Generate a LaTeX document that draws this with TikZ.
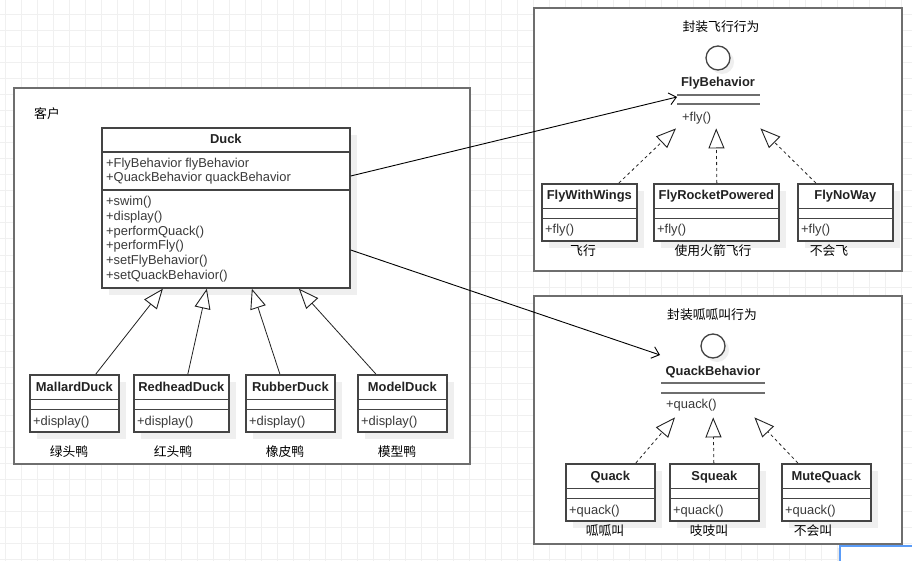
\documentclass[tikz,border=0pt]{standalone}
\usepackage{fontspec}
\setmainfont{Liberation Sans}
\newfontfamily\cjk{Noto Sans CJK SC}
\usetikzlibrary{arrows.meta,shadows,calc}
\definecolor{gridc}{HTML}{F0F0F0}
\definecolor{framec}{HTML}{6E6E6E}
\definecolor{boxc}{HTML}{444444}
\definecolor{txtc}{HTML}{222222}
\definecolor{memc}{HTML}{3A3A3A}
\definecolor{shadc}{HTML}{EFEFEF}
\definecolor{uiblue}{HTML}{5A9CF8}
\tikzset{
  frame/.style={draw=framec, line width=1.8pt, fill=white, inner sep=0pt, anchor=north west},
  classbox/.style={draw=boxc, line width=1.7pt, fill=white, inner sep=0pt, anchor=north west,
    general shadow={fill=shadc, shadow xshift=7pt, shadow yshift=-7pt}},
  sepline/.style={draw=boxc, line width=1.6pt},
  ifline/.style={draw=framec, line width=1.7pt},
  titletext/.style={font=\fontsize{12.9}{15}\selectfont\bfseries, text=txtc, inner sep=0pt, text height=9pt, text depth=0pt},
  membertext/.style={font=\fontsize{12.9}{15}\selectfont, text=memc, inner sep=0pt, text height=9pt, text depth=0pt, anchor=west},
  multitext/.style={font=\fontsize{12.9}{14.85}\selectfont, text=memc, inner sep=0pt, align=left, anchor=north west},
  cjklabel/.style={font=\cjk\fontsize{12.8}{15}\selectfont, text=black, inner sep=0pt, text height=9pt, text depth=0pt},
  ifcircle/.style={circle, draw=boxc, line width=1.3pt, fill=white, minimum size=24pt, inner sep=0pt,
    general shadow={fill=shadc, shadow xshift=4pt, shadow yshift=-4pt}},
  assoc/.style={draw=black, line width=0.9pt, -{Straight Barb[length=7pt, width=12pt, line width=0.9pt]}},
  gen/.style={draw=txtc, line width=0.8pt, -{Triangle[length=20pt, width=16pt, fill=white, line width=0.9pt]}},
  real/.style={gen, dash pattern=on 3pt off 3pt}
}
\newcommand\smallclass[6]{%
  \node[classbox, minimum width={#4-#2}, minimum height=57pt] (#1) at (#2,#3) {};
  \draw[sepline] ([yshift=-25.5pt]#1.north west) -- ([yshift=-25.5pt]#1.north east);
  \draw[sepline] ([yshift=-35.5pt]#1.north west) -- ([yshift=-35.5pt]#1.north east);
  \node[titletext] (#1-t) at ([yshift=-12.5pt]#1.north) {#5};
  \node[membertext] (#1-m) at ([xshift=4pt,yshift=-46.5pt]#1.north west) {#6};
}
\begin{document}
\begin{tikzpicture}[x=1pt,y=-1pt]
\useasboundingbox (0,0) rectangle (912,561);
\fill[white] (0,0) rectangle (912,561);
% background grid
\foreach \gx in {5,21,...,917} \draw[gridc, line width=1pt] (\gx,0) -- (\gx,561);
\foreach \gy in {15,31,...,561} \draw[gridc, line width=1pt] (0,\gy) -- (912,\gy);

% frames
\node[frame, minimum width=456pt, minimum height=376pt] (client) at (13,87) {};
\node[frame, minimum width=368pt, minimum height=263pt] (flyframe) at (533,7) {};
\node[frame, minimum width=368pt, minimum height=248pt] (quackframe) at (533,295) {};

\node[cjklabel] (clientlbl) at (47,114) {客户};
\node[cjklabel] (flylbl) at (721,27) {封装飞行行为};
\node[cjklabel] (quacklbl) at (712,315) {封装呱呱叫行为};

% Duck
\node[classbox, minimum width=248pt, minimum height=160pt] (duck) at (101,127) {};
\draw[sepline] ([yshift=-25pt]duck.north west) -- ([yshift=-25pt]duck.north east);
\draw[sepline] ([yshift=-63pt]duck.north west) -- ([yshift=-63pt]duck.north east);
\node[titletext] (duck-t) at ([yshift=-12.5pt]duck.north) {Duck};
\node[multitext] (duck-a) at ([xshift=5pt,yshift=-30.5pt]duck.north west) {+FlyBehavior flyBehavior\\+QuackBehavior quackBehavior};
\node[multitext] (duck-m) at ([xshift=5pt,yshift=-68.8pt]duck.north west) {+swim()\\+display()\\+performQuack()\\+performFly()\\+setFlyBehavior()\\+setQuackBehavior()};

% Duck subclasses
\smallclass{mal}{29}{374}{118}{MallardDuck}{+display()}
\smallclass{red}{133}{374}{228}{RedheadDuck}{+display()}
\smallclass{rub}{245}{374}{334}{RubberDuck}{+display()}
\smallclass{mod}{357}{374}{446}{ModelDuck}{+display()}
\node[cjklabel] (mal-l) at (69,452) {绿头鸭};
\node[cjklabel] (red-l) at (173,452) {红头鸭};
\node[cjklabel] (rub-l) at (285,452) {橡皮鸭};
\node[cjklabel] (mod-l) at (397,452) {模型鸭};

% FlyBehavior interface
\node[ifcircle] (flyc) at (718,58) {};
\node[titletext] (flyt) at (718,82) {FlyBehavior};
\node[inner sep=0pt, minimum width=83pt, minimum height=33pt, anchor=north west] (flyb) at (677,95) {};
\draw[ifline] (flyb.north west) -- (flyb.north east);
\draw[ifline] ([yshift=-9pt]flyb.north west) -- ([yshift=-9pt]flyb.north east);
\node[membertext] (flyb-m) at ([xshift=5pt,yshift=-22pt]flyb.north west) {+fly()};

\smallclass{fww}{541}{183}{636}{FlyWithWings}{+fly()}
\smallclass{frp}{653}{183}{778}{FlyRocketPowered}{+fly()}
\smallclass{fnw}{797}{183}{892}{FlyNoWay}{+fly()}
\node[cjklabel] (fww-l) at (583,251) {飞行};
\node[cjklabel] (frp-l) at (713,251) {使用火箭飞行};
\node[cjklabel] (fnw-l) at (829,251) {不会飞};

% QuackBehavior interface
\node[ifcircle] (qc) at (713,346) {};
\node[titletext] (qt) at (713,371) {QuackBehavior};
\node[inner sep=0pt, minimum width=104pt, minimum height=34pt, anchor=north west] (qb) at (661,383) {};
\draw[ifline] (qb.north west) -- (qb.north east);
\draw[ifline] ([yshift=-10pt]qb.north west) -- ([yshift=-10pt]qb.north east);
\node[membertext] (qb-m) at ([xshift=5pt,yshift=-21pt]qb.north west) {+quack()};

\smallclass{qk}{565}{463}{654}{Quack}{+quack()}
\smallclass{sq}{669}{463}{758}{Squeak}{+quack()}
\smallclass{mq}{781}{463}{870}{MuteQuack}{+quack()}
\node[cjklabel] (qk-l) at (605,531) {呱呱叫};
\node[cjklabel] (sq-l) at (709,531) {吱吱叫};
\node[cjklabel] (mq-l) at (813,531) {不会叫};

% generalization
\draw[gen] ([xshift=21.5pt]mal.north) -- ([xshift=-63pt]duck.south);
\draw[gen] ([xshift=6.5pt]red.north) -- ([xshift=-19pt]duck.south);
\draw[gen] ([xshift=-10.5pt]rub.north) -- ([xshift=26pt]duck.south);
\draw[gen] ([xshift=-26.5pt]mod.north) -- ([xshift=73pt]duck.south);

% realization
\draw[real] ([xshift=29.5pt]fww.north) -- ([xshift=-1pt]flyb.south west);
\draw[real] ([xshift=0.5pt]frp.north) -- ([xshift=-2.5pt]flyb.south);
\draw[real] ([xshift=-29.5pt]fnw.north) -- (flyb.south east);
\draw[real] ([xshift=25.5pt]qk.north) -- ([xshift=14pt]qb.south west);
\draw[real] ([xshift=-0.5pt]sq.north) -- (qb.south);
\draw[real] ([xshift=-28.5pt]mq.north) -- ([xshift=-11pt]qb.south east);

% associations
\draw[assoc] ([yshift=-49pt]duck.north east) -- ([yshift=-2pt]flyb.north west);
\draw[assoc] ([yshift=-123pt]duck.north east) -- ([xshift=-1pt,yshift=28pt]qb.north west);

% screen artefact bottom right
\fill[black!8] (837,548) rectangle (912,561);
\draw[uiblue, line width=1.2pt, fill=white] (840,546) rectangle (916,566);
\end{tikzpicture}
\end{document}
